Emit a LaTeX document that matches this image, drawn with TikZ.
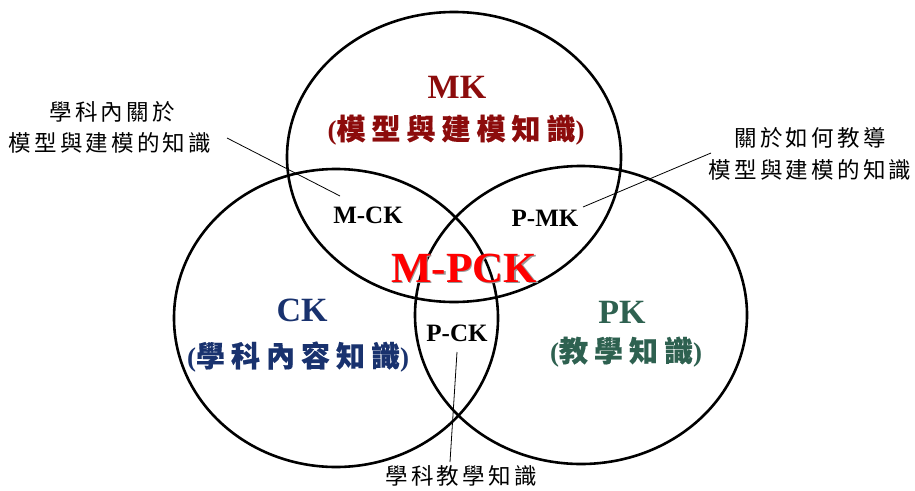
\documentclass[tikz,border=0pt]{standalone}
\usepackage{fontspec}
\setmainfont{Liberation Serif}
\newfontfamily\cjk{Noto Sans CJK TC}
\newfontfamily\cjkb[FakeBold=0.4]{Noto Sans CJK TC}
\definecolor{mkred}{RGB}{140,12,12}
\definecolor{cknavy}{RGB}{25,50,110}
\definecolor{pkgreen}{RGB}{46,97,80}
\definecolor{mpred}{RGB}{255,0,0}
\newcommand\gs{\hspace{3.2pt}}
\newcommand\gb{\hspace{6pt}}
\newcommand\cjkbig{\cjkb\fontsize{29}{32}\selectfont}
\begin{document}
\begin{tikzpicture}[x=1pt,y=-1pt,
  ring/.style={line width=2.6pt},
  lead/.style={line width=0.8pt},
  lbl/.style={inner sep=0pt, anchor=center},
  inlbl/.style={lbl, font=\bfseries\fontsize{25}{30}\selectfont},
  ann/.style={lbl, font=\cjk\fontsize{22.5}{27}\selectfont},
  biglbl/.style={lbl, font=\bfseries\fontsize{34}{40}\selectfont},
  parlbl/.style={lbl, font=\bfseries\fontsize{27}{32}\selectfont}]
\useasboundingbox (0,0) rectangle (915,490);

% circles
\draw[ring] (454,157) ellipse [x radius=167, y radius=145];
\draw[ring] (336,318) ellipse [x radius=162, y radius=149];
\draw[ring] (581,315) ellipse [x radius=166, y radius=149];

% main labels
\node[biglbl, text=mkred] (mk) at (457,87) {MK};
\node[parlbl, text=mkred] (mkt) at (456,130) {({\cjkbig 模\gb 型\gb 與\gb 建\gb 模\gb 知\gb 識})};
\node[biglbl, text=cknavy] (ck) at (302,310) {CK};
\node[parlbl, text=cknavy] (ckt) at (298,357) {({\cjkbig 學\gb 科\gb 內\gb 容\gb 知\gb 識})};
\node[biglbl, text=pkgreen] (pk) at (622,312) {PK};
\node[parlbl, text=pkgreen] (pkt) at (626,352) {({\cjkbig 教\gb 學\gb 知\gb 識})};

% intersection labels
\node[inlbl] (mck) at (368,215) {M-CK};
\node[inlbl] (pmk) at (545,218) {P-MK};
\node[inlbl] (pck) at (457,333) {P-CK};
\node[lbl, font=\bfseries\fontsize{43}{50}\selectfont, text=mpred] (mpck) at (464,269)
  {\makebox[0pt][l]{\hspace{1.6pt}\raisebox{-1.6pt}{\color{black!40}M-PCK}}M-PCK};

% annotations
\node[ann] (a1) at (112,112) {學\gs 科\gs 內\gs 關\gs 於};
\node[ann] (a2) at (110,143) {模\gs 型\gs 與\gs 建\gs 模\gs 的\gs 知\gs 識};
\node[ann] (b1) at (810,138) {關\gs 於\gs 如\gs 何\gs 教\gs 導};
\node[ann] (b2) at (810,170) {模\gs 型\gs 與\gs 建\gs 模\gs 的\gs 知\gs 識};
\node[ann] (c1) at (461,476) {學\gs 科\gs 教\gs 學\gs 知\gs 識};

% leader lines
\coordinate (a2e) at (227,138);
\coordinate (mcke) at (340,196);
\coordinate (b2e) at (711,153);
\coordinate (pmke) at (583,207);
\coordinate (pcke) at (457,352);
\coordinate (c1e) at (450,462);
\draw[lead] (a2e) -- (mcke);
\draw[lead] (b2e) -- (pmke);
\draw[lead] (pcke) -- (c1e);
\end{tikzpicture}
\end{document}
